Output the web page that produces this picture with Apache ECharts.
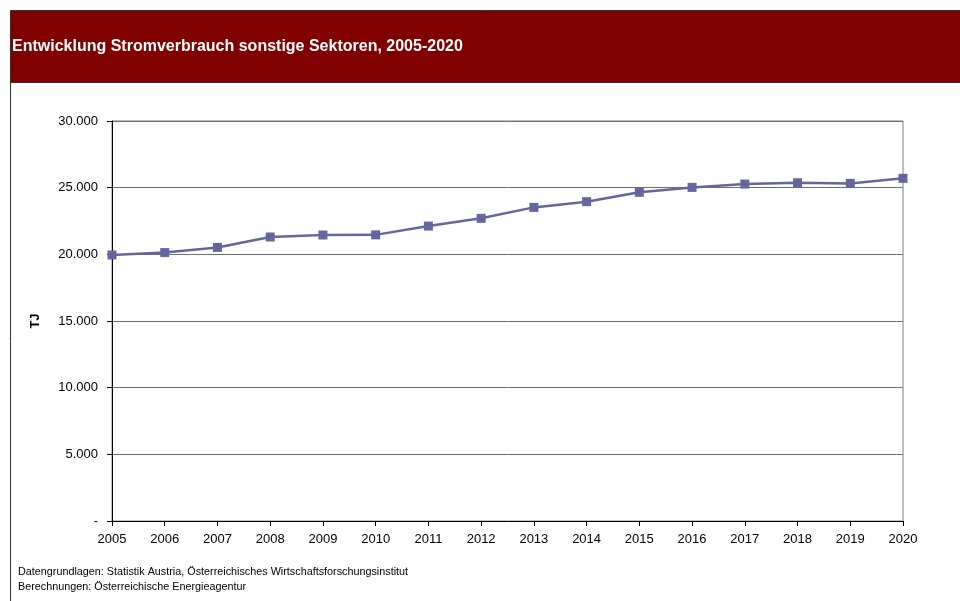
<!DOCTYPE html>
<html>
<head>
<meta charset="utf-8">
<script src="https://cdn.jsdelivr.net/npm/echarts@6/dist/echarts.min.js"></script>
<style>
    html, body { margin: 0; padding: 0; background: #fff; }
    #chart { width: 960px; height: 601px; }
</style>
</head>
<body>
<div id="chart"></div>
<script>
    const years = ['2005', '2006', '2007', '2008', '2009', '2010', '2011', '2012',
        '2013', '2014', '2015', '2016', '2017', '2018', '2019', '2020'];
    const verbrauch = [19950, 20130, 20520, 21300, 21450, 21460, 22120, 22700,
        23520, 23950, 24650, 25020, 25270, 25370, 25320, 25700];
    const titleText = 'Entwicklung Stromverbrauch sonstige Sektoren, 2005-2020';
    const quelle1 = 'Datengrundlagen: Statistik Austria, Österreichisches Wirtschaftsforschungsinstitut';
    const quelle2 = 'Berechnungen: Österreichische Energieagentur';

    const chart = echarts.init(document.getElementById('chart'));

    // 30000 -> "30.000", 0 -> "-"
    function fmtNum(v) {
        if (v === 0) return '-';
        return String(v).replace(/\B(?=(\d{3})+(?!\d))/g, '.');
    }

    const option = {
        animation: false,
        textStyle: { fontFamily: 'Arial, "Liberation Sans", sans-serif' },
        title: {
            text: titleText,
            left: 7,
            top: 34,
            textStyle: { color: '#fff', fontSize: 16, fontWeight: 'bold', fontFamily: 'Arial, "Liberation Sans", sans-serif' }
        },
        graphic: [
            {
                type: 'rect', z: -10,
                shape: { x: 10.5, y: 10.5, width: 960, height: 72 },
                style: { fill: '#800000', stroke: '#303030', lineWidth: 1 }
            },
            {
                type: 'line',
                shape: { x1: 10.5, y1: 82, x2: 10.5, y2: 601 },
                style: { stroke: '#303030', lineWidth: 1 }
            },
            {
                type: 'text', left: 18, top: 567,
                style: { text: quelle1, fontSize: 10.8, fill: '#000', fontFamily: 'Arial, "Liberation Sans", sans-serif' }
            },
            {
                type: 'text', left: 18, top: 582,
                style: { text: quelle2, fontSize: 10.8, fill: '#000', fontFamily: 'Arial, "Liberation Sans", sans-serif' }
            }
        ],
        grid: {
            left: 112, right: 57, top: 121, bottom: 80,
            show: true, borderColor: '#808080', borderWidth: 1
        },
        xAxis: {
            type: 'category',
            data: years,
            boundaryGap: false,
            axisLine: { lineStyle: { color: '#000', width: 1 } },
            axisTick: { show: true, length: 5, lineStyle: { color: '#000' }, alignWithLabel: true },
            axisLabel: { color: '#000', fontSize: 13, margin: 12 }
        },
        yAxis: {
            type: 'value',
            min: 0, max: 30000, interval: 5000,
            name: 'TJ',
            nameLocation: 'middle',
            nameGap: 70,
            nameTextStyle: { color: '#000', fontSize: 13, fontWeight: 'bold' },
            axisLine: { show: true, lineStyle: { color: '#000', width: 1 } },
            axisTick: { show: true, length: 5, lineStyle: { color: '#000' } },
            axisLabel: { color: '#000', fontSize: 13, margin: 14, formatter: fmtNum },
            splitLine: { show: true, lineStyle: { color: '#6e6e6e', width: 1 } }
        },
        series: [
            {
                name: 'Stromverbrauch',
                type: 'line',
                data: verbrauch,
                symbol: 'rect',
                symbolSize: 9,
                lineStyle: { color: '#66669E', width: 2.5 },
                itemStyle: { color: '#66669E' }
            }
        ]
    };

    chart.setOption(option);
</script>
</body>
</html>
